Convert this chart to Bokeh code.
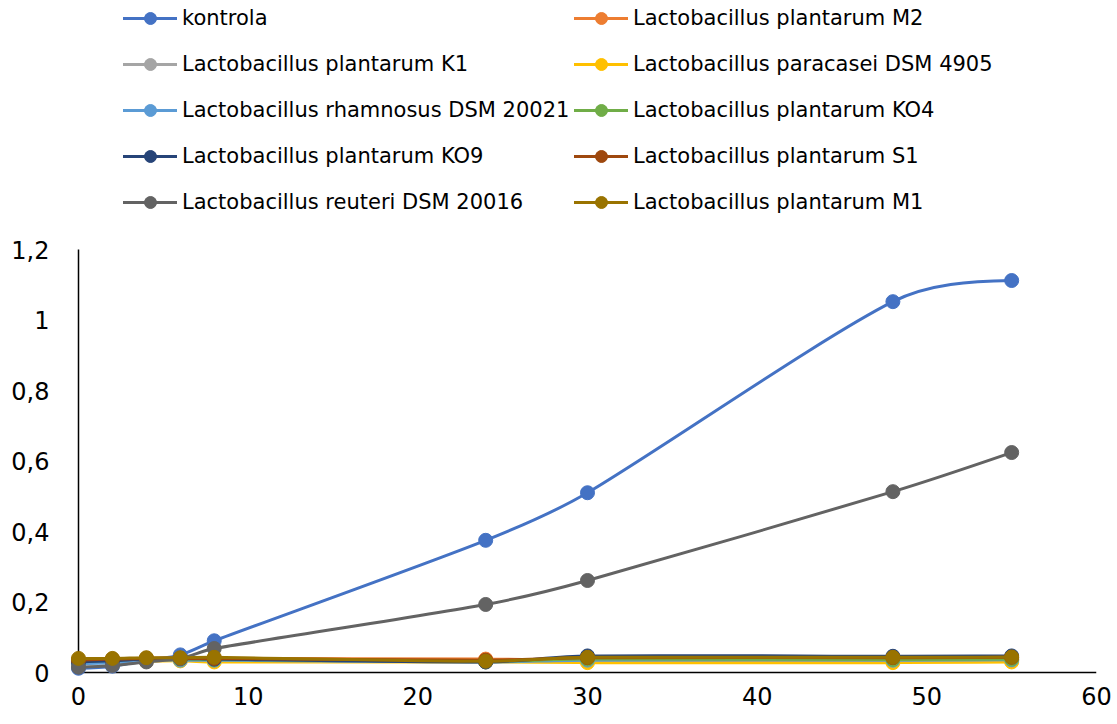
import numpy as np
from bokeh.plotting import figure
from bokeh.models import (Legend, LegendItem, Range1d, FixedTicker, LinearAxis,
                          CustomJSTickFormatter, ColumnDataSource)
from bokeh.embed import file_html
from bokeh.resources import INLINE

# ---------------- data ----------------
hours = [0, 2, 4, 6, 8, 24, 30, 48, 55]

series_names = [
    "kontrola",
    "Lactobacillus plantarum M2",
    "Lactobacillus plantarum K1",
    "Lactobacillus paracasei DSM 4905",
    "Lactobacillus rhamnosus DSM 20021",
    "Lactobacillus plantarum KO4",
    "Lactobacillus plantarum KO9",
    "Lactobacillus plantarum S1",
    "Lactobacillus reuteri DSM 20016",
    "Lactobacillus plantarum M1",
]

kontrola = [0.012, 0.018, 0.035, 0.050, 0.090, 0.375, 0.510, 1.052, 1.112]
plantarum_M2 = [0.035, 0.038, 0.040, 0.040, 0.040, 0.038, 0.035, 0.033, 0.034]
plantarum_K1 = [0.030, 0.032, 0.035, 0.035, 0.036, 0.032, 0.038, 0.038, 0.039]
paracasei_DSM4905 = [0.028, 0.030, 0.032, 0.033, 0.030, 0.030, 0.028, 0.028, 0.030]
rhamnosus_DSM20021 = [0.025, 0.028, 0.035, 0.035, 0.035, 0.030, 0.035, 0.035, 0.036]
plantarum_KO4 = [0.032, 0.035, 0.038, 0.038, 0.037, 0.032, 0.038, 0.037, 0.038]
plantarum_KO9 = [0.030, 0.033, 0.038, 0.040, 0.038, 0.030, 0.047, 0.046, 0.047]
plantarum_S1 = [0.035, 0.038, 0.040, 0.040, 0.040, 0.035, 0.042, 0.042, 0.043]
reuteri_DSM20016 = [0.015, 0.020, 0.030, 0.040, 0.068, 0.193, 0.261, 0.513, 0.624]
plantarum_M1 = [0.040, 0.040, 0.042, 0.042, 0.043, 0.032, 0.043, 0.043, 0.044]

series_values = [kontrola, plantarum_M2, plantarum_K1, paracasei_DSM4905,
                 rhamnosus_DSM20021, plantarum_KO4, plantarum_KO9, plantarum_S1,
                 reuteri_DSM20016, plantarum_M1]

colors = ["#4472C4", "#ED7D31", "#A5A5A5", "#FFC000", "#5B9BD5",
          "#70AD47", "#264478", "#9E480E", "#636363", "#997300"]

x_ticks = [0, 10, 20, 30, 40, 50, 60]
y_ticks = [0, 0.2, 0.4, 0.6, 0.8, 1.0, 1.2]
y_tick_labels = ["0", "0,2", "0,4", "0,6", "0,8", "1", "1,2"]

# ---------------- geometry ----------------
W, H = 1117, 722
x0_px, x60_px = 78, 1096      # canvas px of x=0 and x=60
y0_px, y12_px = 672, 249      # canvas px of y=0 and y=1.2
pad = 8
ppx = (x60_px - x0_px) / 60.0
ppy = (y0_px - y12_px) / 1.2

frame_left = x0_px - pad
frame_bottom = y0_px + pad
frame_top = 0

p = figure(width=W, height=H, output_backend="svg", toolbar_location=None,
           x_range=Range1d(-pad / ppx, 60),
           y_range=Range1d(-pad / ppy, 1.2 + (y12_px - frame_top) / ppy),
           min_border_left=frame_left, min_border_right=W - x60_px,
           min_border_top=frame_top, min_border_bottom=H - frame_bottom,
           x_axis_location=None, y_axis_location=None)
p.outline_line_color = None
p.xgrid.visible = False
p.ygrid.visible = False
p.background_fill_color = "white"
p.border_fill_color = "white"

xa = LinearAxis(ticker=FixedTicker(ticks=x_ticks))
ya = LinearAxis(ticker=FixedTicker(ticks=y_ticks))
ya.formatter = CustomJSTickFormatter(args=dict(yvals=y_ticks, ylabs=y_tick_labels), code="""
let best = 0, bd = 1e9;
for (let i = 0; i < yvals.length; i++) { const d = Math.abs(yvals[i] - tick); if (d < bd) { bd = d; best = i; } }
return ylabs[best];
""")
for ax in (xa, ya):
    ax.axis_line_color = None
    ax.major_tick_line_color = None
    ax.minor_tick_line_color = None
    ax.major_tick_out = 0
    ax.major_tick_in = 0
    ax.major_label_text_font = "DejaVu Sans"
    ax.major_label_text_font_size = "24px"
    ax.major_label_text_color = "#000000"
xa.major_label_standoff = 6
ya.major_label_standoff = 21
p.add_layout(xa, "below")
p.add_layout(ya, "left")

# axis lines, drawn inside the frame from the axis limits
p.segment(x0=[x_ticks[0], x_ticks[0]], y0=[y_ticks[0], y_ticks[0]],
          x1=[x_ticks[-1], x_ticks[0]], y1=[y_ticks[0], y_ticks[-1]],
          line_color="#000000", line_width=1.5)


def smooth_controls(xs, ys):
    """Bezier control points of a smoothed line (computed in screen proportions)."""
    X = np.asarray(xs, float) * ppx
    Y = np.asarray(ys, float) * ppy
    n = len(X)
    T = np.zeros((n, 2))
    D = np.full(n, np.inf)
    for i in range(1, n - 1):
        d = np.array([X[i + 1] - X[i - 1], Y[i + 1] - Y[i - 1]])
        T[i] = d / np.hypot(*d)
        D[i] = np.hypot(*d) / 6
    s_first = 1.5 * (Y[1] - Y[0]) / (X[1] - X[0]) - 0.5 * T[1, 1] / T[1, 0]
    s_last = 1.5 * (Y[-1] - Y[-2]) / (X[-1] - X[-2]) - 0.5 * T[-2, 1] / T[-2, 0]
    for i, s in ((0, s_first), (n - 1, s_last)):
        T[i] = np.array([1.0, s]) / np.hypot(1.0, s)
    L = np.hypot(X[1:] - X[:-1], Y[1:] - Y[:-1])
    a = np.minimum(D[:-1], L / 3)
    b = np.minimum(D[1:], L / 3)
    c1x = X[:-1] + T[:-1, 0] * a
    c1y = Y[:-1] + T[:-1, 1] * a
    c2x = X[1:] - T[1:, 0] * b
    c2y = Y[1:] - T[1:, 1] * b
    return dict(x0=X[:-1] / ppx, y0=Y[:-1] / ppy, x1=X[1:] / ppx, y1=Y[1:] / ppy,
                cx0=c1x / ppx, cy0=c1y / ppy, cx1=c2x / ppx, cy1=c2y / ppy)


items = []
for name, vals, col in zip(series_names, series_values, colors):
    seg = ColumnDataSource(smooth_controls(hours, vals))
    br = p.bezier(x0="x0", y0="y0", x1="x1", y1="y1", cx0="cx0", cy0="cy0",
                  cx1="cx1", cy1="cy1", source=seg, line_color=col,
                  line_width=3, line_cap="round")
    sr = p.scatter(hours, vals, size=14, marker="circle", fill_color=col,
                   line_color=col, line_width=1)
    items.append(LegendItem(label=name, renderers=[br, sr]))

# two legend columns, filled row by row
row_h, row_gap = 30, 16
first_row_center = 18
legend_h = 5 * row_h + 4 * row_gap
legend_bottom_canvas = first_row_center - row_h / 2 + legend_h
for col_idx, col_left in enumerate([123, 574]):
    lg = Legend(items=items[col_idx::2], orientation="vertical",
                location=(col_left - frame_left, frame_bottom - legend_bottom_canvas),
                glyph_width=54, glyph_height=row_h, label_height=row_h,
                spacing=row_gap, label_standoff=5, padding=0, margin=0,
                border_line_color=None, background_fill_alpha=0,
                label_text_font="DejaVu Sans", label_text_font_size="21px",
                label_text_color="#000000")
    p.add_layout(lg, "center")

open("out.html", "w").write(file_html(p, INLINE))
